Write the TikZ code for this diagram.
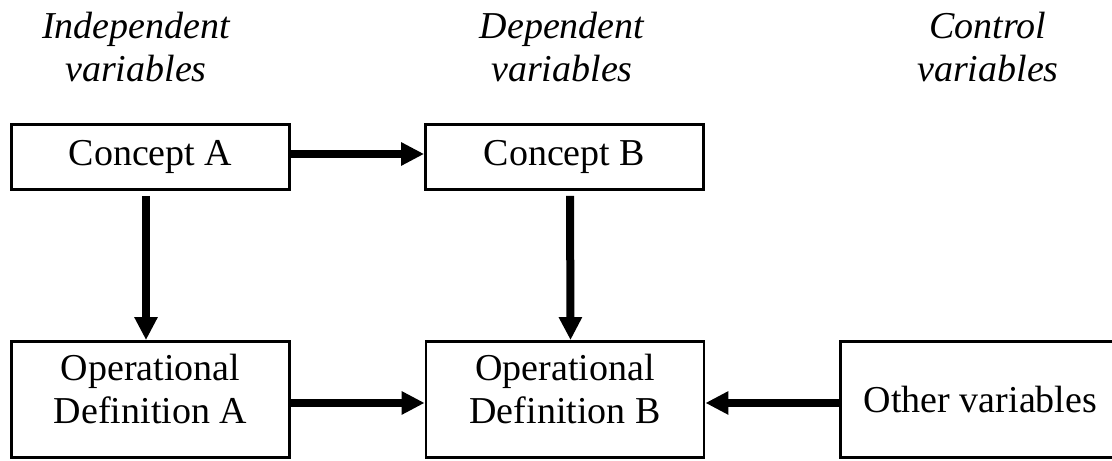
\documentclass[tikz,border=0pt]{standalone}
\usepackage{fontspec}
\setmainfont{Liberation Serif}
\usetikzlibrary{positioning,arrows.meta}

\begin{document}
\begin{tikzpicture}[>={Triangle[length=11.5pt,width=11pt]},
    varbox/.style={draw, line width=1.4pt, inner sep=0pt, align=center, font=\fontsize{19}{21.5}\selectfont},
    header/.style={align=center, font=\fontsize{19}{21.5}\selectfont\itshape},
    flow/.style={->, line width=4pt}]

    \useasboundingbox (0, 0) rectangle (19.541, 8.101);

    % ================= HEADERS =================
    \node[header] (hind) at (2.390, 7.267) {Independent\\variables};
    \node[header] (hdep) at (9.876, 7.267) {Dependent\\variables};
    \node[header] (hctl) at (17.362, 7.267) {Control\\variables};

    % ================= CONCEPTS =================
    \node[varbox, minimum width=139pt, minimum height=32.5pt] (conA) at (2.645, 5.342) {Concept A};
    \node[varbox, minimum width=139pt, minimum height=32.5pt] (conB) at (9.920, 5.342) {Concept B};

    % ================= OPERATIONAL DEFINITIONS =================
    \node[varbox, minimum width=139pt, minimum height=58pt] (opA) at (2.645, 1.081) {Operational\\Definition A\rule[-10.5pt]{0pt}{0pt}};
    \node[varbox, minimum width=139pt, minimum height=58pt] (opB) at (9.929, 1.081) {Operational\\Definition B\rule[-10.5pt]{0pt}{0pt}};
    % runs off the right edge of the page
    \node[varbox, minimum width=150pt, minimum height=58pt] (other) at (17.406, 1.081) {Other variables\hspace*{10pt}};

    % ================= LINKS =================
    \draw[flow] ([yshift=1.5pt]conA.east) -- ([yshift=1.5pt]conB.west);
    \draw[flow, shorten <=2.5pt] ([xshift=-2.25pt]conA.south) -- ([xshift=-2.25pt]opA.north);
    \draw[flow, shorten <=2.5pt] ([xshift=2.75pt]conB.south) -- ([xshift=2.75pt]opB.north);
    \draw[flow] ([yshift=-1.75pt]opA.east) -- ([yshift=-1.75pt]opB.west);
    \draw[flow] ([yshift=-1.75pt]other.west) -- ([yshift=-1.75pt]opB.east);

\end{tikzpicture}
\end{document}
